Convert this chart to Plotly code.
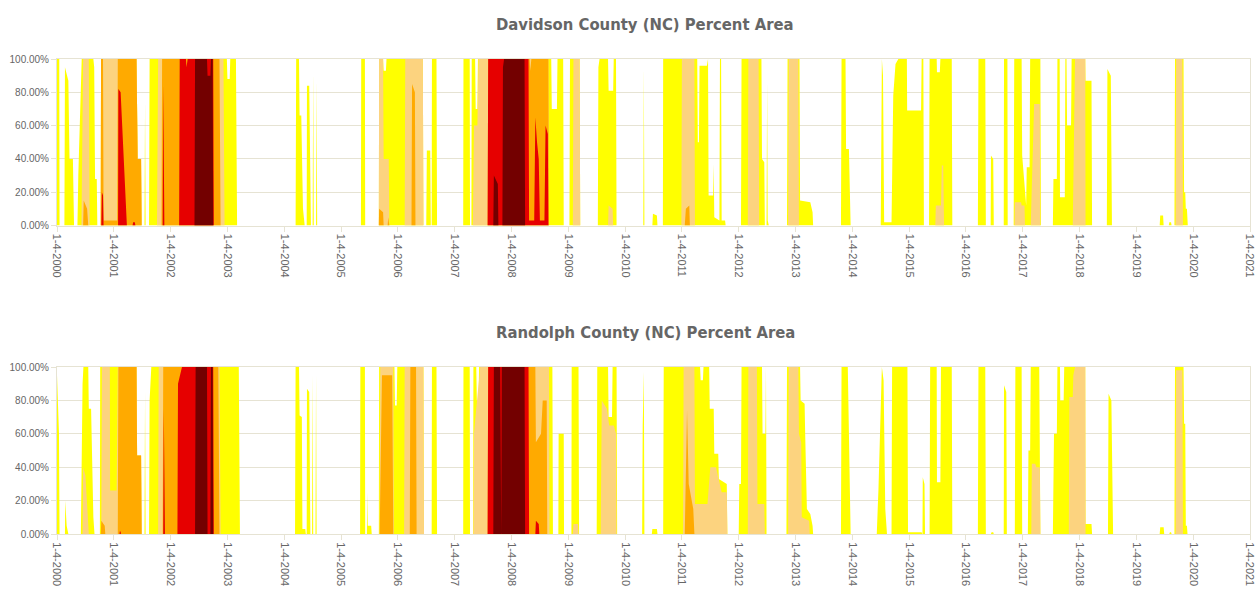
import plotly.graph_objects as go

# ---------------- data (x = years since 1-4-2000 expressed as 2000 + fraction, y = percent area) -------------
YEARS = list(range(2000, 2022))
X_TICK_LABELS = ["1-4-%d" % y for y in YEARS]
Y_TICKS = [0, 20, 40, 60, 80, 100]
Y_TICK_LABELS = ["0.00%", "20.00%", "40.00%", "60.00%", "80.00%", "100.00%"]

CATEGORIES = ["D0", "D1", "D2", "D3", "D4"]
COLORS = ["#FFFF00", "#FCD37F", "#FFAA00", "#E60000", "#730000"]
TITLES = ["Davidson County (NC) Percent Area", "Randolph County (NC) Percent Area"]

DAV_D0 = [(2000.0,100),(2000.04,100),(2000.045,0),
 (2000.13,0),(2000.14,95),(2000.2,87),(2000.22,40),(2000.28,40),(2000.30,0),
 (2000.36,0),(2000.375,30),(2000.435,100),(2000.64,100),(2000.655,95),(2000.67,28),(2000.70,28),(2000.71,0),
 (2000.77,0),(2000.775,100),(2001.40,100),(2001.42,40),(2001.48,40),(2001.49,0),
 (2001.54,0),(2001.55,75),(2001.56,0),
 (2001.62,0),(2001.63,100),(2002.99,100),(2003.0,88),(2003.04,88),(2003.05,100),(2003.15,100),(2003.17,0),
 (2004.20,0),(2004.21,100),(2004.26,100),(2004.27,66),(2004.30,66),(2004.33,10),(2004.36,0),
 (2004.395,0),(2004.40,84),(2004.44,84),(2004.47,0),
 (2004.50,0),(2004.51,92),(2004.52,0),
 (2004.56,0),(2004.57,88),(2004.58,0),
 (2005.35,0),(2005.355,100),(2005.42,100),(2005.425,0),
 (2005.665,0),(2005.67,100),(2005.74,100),(2005.75,93),(2005.79,93),(2005.80,100),(2006.44,100),(2006.45,0),
 (2006.50,0),(2006.51,45),(2006.57,45),(2006.58,0),
 (2006.595,0),(2006.60,100),(2006.68,100),(2006.69,0),
 (2007.15,0),(2007.155,100),(2007.265,100),(2007.27,0),
 (2007.295,0),(2007.30,100),(2007.36,100),(2007.37,70),(2007.40,70),(2007.41,100),(2008.70,100),(2008.71,70),(2008.80,70),(2008.81,100),(2008.91,100),(2008.92,0),
 (2009.02,0),(2009.03,100),(2009.20,100),(2009.21,0),
 (2009.52,0),(2009.53,95),(2009.55,100),(2009.70,100),(2009.71,81),(2009.79,81),(2009.80,100),(2009.84,100),(2009.85,0),
 (2010.32,0),(2010.33,95),(2010.34,0),
 (2010.48,0),(2010.49,7),(2010.56,6),(2010.57,0),
 (2010.665,0),(2010.67,100),(2011.27,100),(2011.28,50),(2011.30,50),(2011.31,96),(2011.44,96),(2011.46,100),(2011.47,18),(2011.55,18),(2011.56,37),(2011.57,5),(2011.66,3),(2011.67,100),(2011.69,100),(2011.70,3),(2011.76,3),(2011.77,0),
 (2012.04,0),(2012.05,100),(2012.40,100),(2012.41,40),(2012.45,38),(2012.46,0),(2012.49,0),(2012.50,87),(2012.51,3),(2012.53,0),
 (2012.85,0),(2012.86,100),(2013.07,100),(2013.08,15),(2013.26,14),(2013.30,8),(2013.31,0),
 (2013.80,0),(2013.81,100),(2013.88,100),(2013.89,46),(2013.94,46),(2013.97,0),
 (2014.50,0),(2014.52,100),(2014.54,90),(2014.56,2),(2014.69,2),(2014.72,78),(2014.76,97),(2014.81,100),(2014.96,100),(2014.965,69),(2015.21,69),(2015.22,100),(2015.25,100),(2015.26,0),
 (2015.35,0),(2015.36,100),(2015.485,100),(2015.49,92),(2015.54,92),(2015.55,100),(2015.75,100),(2015.76,0),
 (2016.21,0),(2016.22,100),(2016.34,100),(2016.35,0),
 (2016.435,0),(2016.44,42),(2016.48,40),(2016.49,0),
 (2016.665,0),(2016.67,100),(2016.73,100),(2016.735,0),
 (2016.84,0),(2016.85,100),(2016.98,100),(2016.99,42),(2017.06,12),(2017.07,35),(2017.12,35),(2017.13,100),(2017.31,100),(2017.32,0),
 (2017.53,0),(2017.54,28),(2017.60,28),(2017.61,100),(2017.65,100),(2017.655,17),(2017.74,17),(2017.75,100),(2017.77,100),(2017.78,60),(2017.85,60),(2017.86,100),(2018.10,100),(2018.105,87),(2018.21,87),(2018.22,0),
 (2018.48,0),(2018.49,94),(2018.55,90),(2018.57,0),
 (2019.41,0),(2019.42,6),(2019.47,6),(2019.48,0),
 (2019.57,0),(2019.58,2),(2019.61,2),(2019.62,0),
 (2019.67,0),(2019.68,100),(2019.83,100),(2019.84,20),(2019.86,20),(2019.87,10),(2019.89,10),(2019.905,0),(2021.0,0)]

DAV_D1 = [(2000.43,0),(2000.46,100),(2000.56,100),(2000.575,0),
 (2000.77,0),(2000.775,100),(2001.40,100),(2001.42,40),(2001.48,40),(2001.49,0),
 (2001.76,0),(2001.78,100),(2002.93,100),(2002.95,0),
 (2005.665,0),(2005.67,100),(2005.74,100),(2005.75,40),(2005.84,40),(2005.85,0),
 (2006.12,0),(2006.13,100),(2006.44,100),(2006.45,0),
 (2007.32,0),(2007.34,60),(2007.40,60),(2007.42,100),(2008.65,100),(2008.66,0),
 (2009.08,0),(2009.09,100),(2009.20,100),(2009.21,0),
 (2009.70,0),(2009.71,12),(2009.78,10),(2009.79,0),
 (2010.99,0),(2011.0,100),(2011.22,100),(2011.23,0),
 (2012.16,0),(2012.17,100),(2012.35,100),(2012.36,0),
 (2012.87,0),(2012.88,100),(2013.05,100),(2013.06,0),
 (2015.46,0),(2015.47,12),(2015.56,12),(2015.575,36),(2015.60,36),(2015.615,0),
 (2016.855,0),(2016.86,14),(2016.97,14),(2016.98,12),(2017.03,12),(2017.04,0),
 (2017.14,0),(2017.19,67),(2017.20,73),(2017.30,73),(2017.31,0),
 (2017.88,0),(2017.89,20),(2017.92,100),(2018.10,100),(2018.105,0),
 (2019.69,0),(2019.70,100),(2019.81,100),(2019.82,0)]

DAV_D2 = [(2000.46,0),(2000.47,15),(2000.53,10),(2000.55,0),
 (2000.77,0),(2000.775,100),(2000.81,100),(2000.82,3),(2001.06,3),(2001.07,100),(2001.40,100),(2001.42,40),(2001.48,40),(2001.49,0),
 (2001.84,0),(2001.85,100),(2002.86,100),(2002.88,0),
 (2005.665,0),(2005.67,10),(2005.74,8),(2005.75,0),(2005.82,0),(2005.83,5),(2005.85,0),
 (2006.24,0),(2006.25,85),(2006.30,80),(2006.31,0),
 (2007.58,0),(2007.59,100),(2008.32,100),(2008.33,93),(2008.35,100),(2008.65,100),(2008.66,0),
 (2011.05,0),(2011.07,10),(2011.13,12),(2011.14,0)]

DAV_D3 = [(2000.78,0),(2000.79,20),(2000.81,18),(2000.82,0),
 (2001.075,0),(2001.08,82),(2001.12,80),(2001.15,58),(2001.19,26),(2001.23,0),
 (2001.33,0),(2001.34,2),(2001.37,2),(2001.38,0),
 (2001.86,0),(2001.87,85),(2001.89,0),
 (2002.15,0),(2002.16,100),(2002.27,100),(2002.28,95),(2002.30,100),(2002.75,100),(2002.76,0),
 (2007.58,0),(2007.59,100),(2008.30,100),(2008.31,3),(2008.40,3),(2008.42,65),(2008.45,50),(2008.48,40),(2008.50,3),(2008.58,3),(2008.60,60),(2008.64,55),(2008.65,0)]

DAV_D4 = [(2002.42,0),(2002.43,100),(2002.64,100),(2002.65,90),(2002.70,90),(2002.71,100),(2002.74,100),(2002.75,0),
 (2007.68,0),(2007.69,30),(2007.76,25),(2007.77,0),(2007.84,0),(2007.85,95),(2007.87,100),(2008.23,100),(2008.24,0)]

RAN_D0 = [(2000.0,95),(2000.02,80),(2000.035,60),(2000.045,0),
 (2000.14,0),(2000.145,20),(2000.17,5),(2000.20,0),
 (2000.42,0),(2000.45,90),(2000.465,100),(2000.55,100),(2000.56,75),(2000.60,75),(2000.64,10),(2000.66,0),
 (2000.755,0),(2000.76,100),(2001.40,100),(2001.41,47),(2001.48,47),(2001.49,0),
 (2001.54,0),(2001.55,85),(2001.56,0),
 (2001.62,0),(2001.63,80),(2001.66,100),(2003.20,100),(2003.22,0),
 (2004.19,0),(2004.20,100),(2004.26,100),(2004.27,71),(2004.31,70),(2004.32,3),(2004.37,3),(2004.38,0),
 (2004.395,0),(2004.40,87),(2004.44,85),(2004.46,0),
 (2004.49,0),(2004.50,95),(2004.51,0),(2004.55,0),(2004.56,95),(2004.57,0),
 (2005.335,0),(2005.34,100),(2005.42,100),(2005.425,0),
 (2005.455,0),(2005.46,25),(2005.47,5),(2005.53,5),(2005.54,0),
 (2005.665,0),(2005.67,100),(2005.94,100),(2005.95,77),(2005.98,77),(2005.99,100),(2006.45,100),(2006.46,0),
 (2006.595,0),(2006.60,100),(2006.68,100),(2006.69,0),
 (2007.15,0),(2007.155,100),(2007.265,100),(2007.27,0),
 (2007.325,0),(2007.33,100),(2007.38,100),(2007.39,80),(2007.42,80),(2007.43,100),(2008.72,100),(2008.73,0),
 (2008.825,0),(2008.83,60),(2008.92,60),(2008.925,0),
 (2009.055,0),(2009.06,100),(2009.18,100),(2009.19,0),
 (2009.50,0),(2009.51,100),(2009.70,100),(2009.71,70),(2009.77,70),(2009.78,100),(2009.85,100),(2009.86,0),
 (2010.30,0),(2010.31,65),(2010.33,97),(2010.34,0),
 (2010.47,0),(2010.48,3),(2010.56,3),(2010.57,0),
 (2010.67,0),(2010.68,100),(2011.32,100),(2011.33,92),(2011.37,92),(2011.38,100),(2011.48,100),(2011.49,75),(2011.56,75),(2011.57,48),(2011.64,48),(2011.65,33),(2011.79,30),(2011.80,0),
 (2012.0,0),(2012.01,30),(2012.04,30),(2012.05,100),(2012.41,100),(2012.42,60),(2012.47,60),(2012.48,100),(2012.49,0),
 (2012.84,0),(2012.85,100),(2013.08,100),(2013.09,80),(2013.16,78),(2013.17,60),(2013.20,15),(2013.26,12),(2013.30,5),(2013.31,0),
 (2013.80,0),(2013.81,100),(2013.92,100),(2013.97,0),
 (2014.43,0),(2014.46,27),(2014.52,100),(2014.55,92),(2014.58,15),(2014.61,0),
 (2014.69,0),(2014.70,100),(2014.97,100),(2014.98,1),(2015.22,1),(2015.23,0),
 (2015.235,0),(2015.24,34),(2015.27,30),(2015.28,0),
 (2015.36,0),(2015.37,100),(2015.485,100),(2015.49,31),(2015.55,31),(2015.56,100),(2015.75,100),(2015.76,0),
 (2016.21,0),(2016.22,100),(2016.34,100),(2016.35,0),
 (2016.44,0),(2016.45,1),(2016.48,1),(2016.49,0),
 (2016.665,0),(2016.67,89),(2016.71,85),(2016.72,0),
 (2016.86,0),(2016.87,100),(2016.98,100),(2016.99,0),
 (2017.09,0),(2017.10,50),(2017.13,50),(2017.14,100),(2017.29,100),(2017.31,0),
 (2017.53,0),(2017.55,60),(2017.60,60),(2017.61,100),(2017.655,100),(2017.66,80),(2017.72,80),(2017.73,100),(2018.10,100),(2018.105,6),(2018.21,6),(2018.22,0),
 (2018.50,0),(2018.51,84),(2018.56,80),(2018.59,0),
 (2019.41,0),(2019.42,4),(2019.48,4),(2019.49,0),
 (2019.58,0),(2019.59,1),(2019.61,1),(2019.62,0),
 (2019.67,0),(2019.68,100),(2019.83,100),(2019.84,66),(2019.86,66),(2019.87,5),(2019.89,5),(2019.90,0),(2021.0,0)]

RAN_D1 = [(2000.45,0),(2000.46,40),(2000.50,35),(2000.55,10),(2000.56,0),
 (2000.78,0),(2000.79,100),(2000.93,100),(2000.935,26),(2001.05,26),(2001.07,100),(2001.40,100),(2001.41,47),(2001.48,47),(2001.49,0),
 (2001.78,0),(2001.79,100),(2002.86,100),(2002.88,0),
 (2005.68,0),(2005.69,100),(2005.92,100),(2005.93,0),
 (2006.11,0),(2006.12,100),(2006.45,100),(2006.46,0),
 (2007.33,0),(2007.34,60),(2007.38,75),(2007.42,90),(2007.45,100),(2008.66,100),(2008.67,0),
 (2009.08,0),(2009.09,6),(2009.17,6),(2009.18,0),
 (2009.57,0),(2009.59,80),(2009.68,75),(2009.72,65),(2009.80,65),(2009.84,60),(2009.85,0),
 (2011.02,0),(2011.03,100),(2011.22,100),(2011.23,18),(2011.45,18),(2011.50,40),(2011.60,40),(2011.70,25),(2011.79,25),(2011.80,0),
 (2012.16,0),(2012.17,100),(2012.32,100),(2012.33,18),(2012.45,18),(2012.46,0),
 (2012.87,0),(2012.88,100),(2013.05,100),(2013.06,60),(2013.10,55),(2013.11,10),(2013.24,8),(2013.25,0),
 (2017.15,0),(2017.16,42),(2017.22,42),(2017.24,40),(2017.30,40),(2017.31,0),
 (2017.81,0),(2017.82,82),(2017.88,82),(2017.89,95),(2017.92,100),(2018.10,100),(2018.105,0),
 (2019.69,0),(2019.70,98),(2019.81,98),(2019.82,0)]

RAN_D2 = [(2000.77,0),(2000.78,8),(2000.84,5),(2000.85,0),
 (2001.07,0),(2001.08,100),(2001.40,100),(2001.41,47),(2001.48,47),(2001.49,0),
 (2001.86,0),(2001.87,100),(2002.84,100),(2002.86,0),
 (2005.68,0),(2005.70,60),(2005.72,95),(2005.90,95),(2005.92,0),
 (2006.21,0),(2006.22,100),(2006.32,100),(2006.33,0),
 (2007.58,0),(2007.59,100),(2008.42,100),(2008.43,55),(2008.52,60),(2008.55,80),(2008.62,80),(2008.63,0),
 (2011.05,0),(2011.06,15),(2011.09,74),(2011.12,30),(2011.20,15),(2011.22,0)]

RAN_D3 = [(2001.10,0),(2001.105,1.5),(2001.12,1.5),(2001.125,0),
 (2001.87,0),(2001.88,75),(2001.90,0),
 (2002.12,0),(2002.13,90),(2002.20,100),(2002.75,100),(2002.76,0),
 (2007.58,0),(2007.59,100),(2008.30,100),(2008.31,0),
 (2008.42,0),(2008.43,8),(2008.48,6),(2008.49,0)]

RAN_D4 = [(2002.43,0),(2002.44,100),(2002.64,100),(2002.65,0),(2002.70,0),(2002.71,100),(2002.74,100),(2002.75,0),
 (2007.68,0),(2007.69,100),(2007.80,100),(2007.81,0),(2007.82,0),(2007.83,100),(2008.23,100),(2008.24,0)]

COUNTIES = [[DAV_D0, DAV_D1, DAV_D2, DAV_D3, DAV_D4],
            [RAN_D0, RAN_D1, RAN_D2, RAN_D3, RAN_D4]]

# ---------------- figure ----------------
W, H = 1260, 590
fig = go.Figure()

for ci, series_list in enumerate(COUNTIES):
    xa = "x" if ci == 0 else "x2"
    ya = "y" if ci == 0 else "y2"
    for si, pts in enumerate(series_list):
        xs = [p[0] for p in pts]
        ys = [p[1] for p in pts]
        fig.add_trace(go.Scatter(
            x=xs, y=ys, mode="lines", fill="tozeroy",
            fillcolor=COLORS[si], line=dict(width=0, color=COLORS[si]),
            name=CATEGORIES[si], showlegend=False, hoverinfo="skip",
            xaxis=xa, yaxis=ya))

GRID = "#e6e3d3"
YTICKFONT = dict(family="Liberation Sans, Arial, sans-serif", size=10, color="#666666")
XTICKFONT = dict(family="Liberation Sans, Arial, sans-serif", size=11, color="#666666")

def px_to_paper(py):
    return (H - py) / H

xcommon = dict(range=[2000, 2021], tickmode="array", tickvals=YEARS, ticktext=X_TICK_LABELS,
               tickangle=90, showgrid=False, showline=True, linecolor=GRID, linewidth=1,
               mirror=True, ticks="outside", ticklen=5, tickcolor=GRID, tickfont=XTICKFONT,
               zeroline=False, automargin=False, fixedrange=True)
ycommon = dict(range=[0, 100], tickmode="array", tickvals=Y_TICKS, ticktext=Y_TICK_LABELS,
               showgrid=True, gridcolor=GRID, gridwidth=1, showline=True, linecolor=GRID,
               mirror=True, ticks="outside", ticklen=5, tickcolor=GRID, tickfont=YTICKFONT,
               zeroline=False, automargin=False, fixedrange=True)

fig.update_layout(
    width=W, height=H,
    margin=dict(l=57, r=10, t=0, b=0),
    paper_bgcolor="white", plot_bgcolor="white",
    template="none",
    xaxis=dict(domain=[0, 1], anchor="y", **xcommon),
    yaxis=dict(domain=[px_to_paper(225.5), px_to_paper(59)], anchor="x", **ycommon),
    xaxis2=dict(domain=[0, 1], anchor="y2", **xcommon),
    yaxis2=dict(domain=[px_to_paper(534), px_to_paper(367)], anchor="x2", **ycommon),
    hovermode=False,
)

TITLE_FONT = dict(family="DejaVu Sans Condensed, Liberation Sans Narrow, sans-serif",
                  size=16.5, color="#666666")
for title, py in zip(TITLES, [24, 332]):
    fig.add_annotation(text="<b>%s</b>" % title, xref="paper", yref="paper",
                       x=(645 - 57) / (W - 57 - 10), y=px_to_paper(py),
                       xanchor="center", yanchor="middle", showarrow=False, font=TITLE_FONT)

fig.write_html("out.html", config={"displayModeBar": False},
               post_script="document.body.style.margin='0px';document.body.style.overflow='hidden';")
